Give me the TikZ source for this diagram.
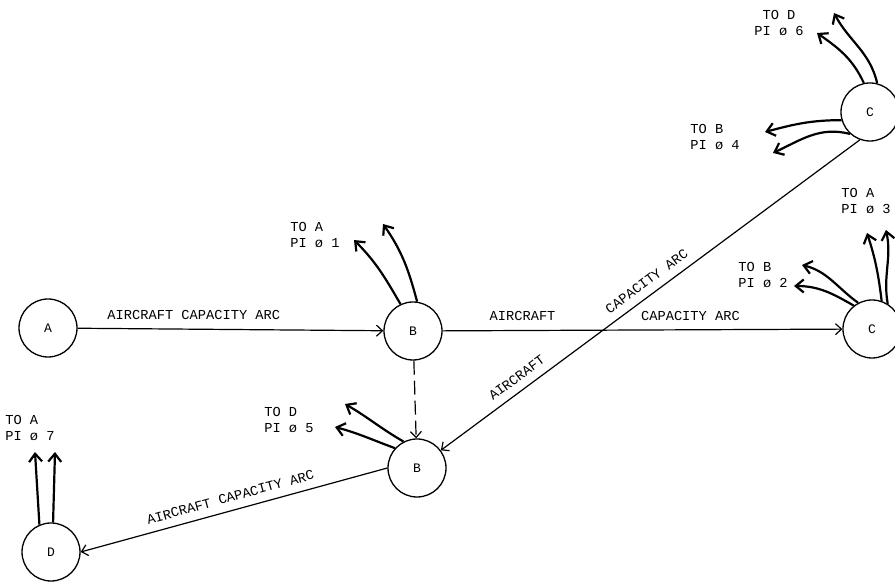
\documentclass[tikz,border=0pt]{standalone}
\usepackage{fontspec}
\setmonofont{Liberation Mono}
\usetikzlibrary{arrows.meta}

\tikzset{
  station/.style={draw,circle,minimum size=58pt,inner sep=0,line width=1.3pt,font=\ttfamily\fontsize{13}{15}\selectfont},
  arc/.style={line width=1.2pt,-{Straight Barb[length=6pt,width=11pt]}},
  stub/.style={line width=2.2pt,-{Straight Barb[length=8pt,width=13pt]}},
  lbl/.style={font=\ttfamily\fontsize{13.7}{16}\selectfont,inner sep=0,align=left}
}

\begin{document}
\begin{tikzpicture}[x=1pt,y=1pt]
\useasboundingbox (0,0) rectangle (895,583);

\node[station] (a) at (48,255) {A};
\node[station] (b1) at (413,252) {B};
\node[station] (c2) at (872,254) {C};
\node[station] (c1) at (870,471) {C};
\node[station] (b2) at (417,115) {B};
\node[station] (d) at (51,31) {D};

% capacity arcs
\draw[arc] (a) -- (b1) node[lbl,pos=.38,above=9pt] {AIRCRAFT CAPACITY ARC};
\draw[arc] (b1) -- (c2)
  node[lbl,pos=.2,above=9pt] {AIRCRAFT}
  node[lbl,pos=.62,above=9pt] {CAPACITY ARC};
\draw[arc] (c1.250) -- (b2)
  node[lbl,sloped,pos=.49,above=8pt] {CAPACITY ARC}
  node[lbl,sloped,pos=.8,above=8pt] {AIRCRAFT};
\draw[arc] (b2.west) -- (d.east) node[lbl,sloped,pos=.5,above=8pt] {AIRCRAFT CAPACITY ARC};
\draw[arc,dash pattern=on 14pt off 6pt] (b1) -- (b2);

% pi arcs
\coordinate (c1d1) at (817,550);
\coordinate (c1d2) at (834,570);
\coordinate (c1b1) at (765,451);
\coordinate (c1b2) at (773,430);
\coordinate (c2b1) at (802,318);
\coordinate (c2b2) at (794,297);
\coordinate (c2a1) at (867,350);
\coordinate (c2a2) at (886,353);
\coordinate (b1a1) at (354,343);
\coordinate (b1a2) at (383,359);
\coordinate (b2d1) at (345,179);
\coordinate (b2d2) at (335,156);
\coordinate (da1) at (35,131);
\coordinate (da2) at (55,131);

\draw[stub] (c1.102) to[out=115,in=-35] (c1d1);
\draw[stub] (c1.76) to[out=103,in=-62] (c1d2);
\draw[stub] (c1.196) to[out=180,in=15] (c1b1);
\draw[stub] (c1.228) to[out=165,in=25] (c1b2);
\draw[stub] (c2.118) to[out=144,in=-14] (c2b1);
\draw[stub] (c2.128) to[out=150,in=0] (c2b2);
\draw[stub] (c2.71) to[out=97,in=-72] (c2a1);
\draw[stub] (c2.58) to[out=100,in=-78] (c2a2);
\draw[stub] (b1.115) to[out=120,in=-45] (b1a1);
\draw[stub] (b1.82) to[out=105,in=-55] (b1a2);
\draw[stub] (b2.117) to[out=150,in=-30] (b2d1);
\draw[stub] (b2.138) to[out=160,in=-15] (b2d2);
\draw[stub] (d.113) -- (da1);
\draw[stub] (d.86) -- (da2);

\node[lbl,align=center] (c1dl) at (779,560) {TO D\\PI ø 6};
\node[lbl] (c1bl) at (715,446) {TO B\\PI ø 4};
\node[lbl] (c2al) at (866,382) {TO A\\PI ø 3};
\node[lbl] (c2bl) at (763,308) {TO B\\PI ø 2};
\node[lbl] (b1al) at (315,348) {TO A\\PI ø 1};
\node[lbl] (b2dl) at (289,163) {TO D\\PI ø 5};
\node[lbl] (dal) at (30,155) {TO A\\PI ø 7};

\end{tikzpicture}
\end{document}
